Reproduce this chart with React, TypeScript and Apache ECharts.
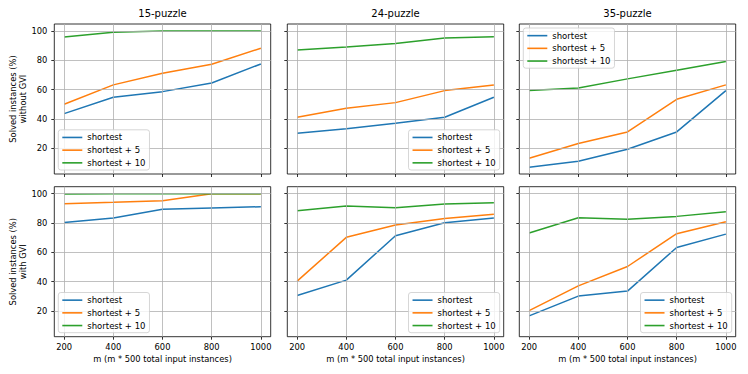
import React, { useEffect, useRef } from "react";
import * as echarts from "echarts";

const mValues = [200, 400, 600, 800, 1000];
const xTicks = [200, 400, 600, 800, 1000];
const yTicks = [20, 40, 60, 80, 100];
const seriesNames = ["shortest", "shortest + 5", "shortest + 10"];
const puzzleTitles = ["15-puzzle", "24-puzzle", "35-puzzle"];
const rowLabels = ["Solved instances (%)\nwithout GVI", "Solved instances (%)\nwith GVI"];
const xAxisTitle = "m (m * 500 total input instances)";

// without GVI
const p15WithoutShortest = [43.6, 54.8, 58.6, 64.5, 77.5];
const p15WithoutPlus5 = [50.0, 63.2, 71.1, 77.3, 88.2];
const p15WithoutPlus10 = [95.9, 99.1, 100, 100, 100];
const p24WithoutShortest = [30.2, 33.2, 37.0, 41.1, 54.8];
const p24WithoutPlus5 = [41.1, 47.3, 51.1, 59.3, 63.2];
const p24WithoutPlus10 = [87.0, 89.1, 91.4, 95.2, 96.1];
const p35WithoutShortest = [7.0, 11.1, 19.3, 31.1, 59.3];
const p35WithoutPlus5 = [13.2, 23.2, 31.1, 53.4, 63.2];
const p35WithoutPlus10 = [59.3, 61.1, 67.3, 73.2, 79.1];
// with GVI
const p15WithShortest = [80.4, 83.4, 89.3, 90.2, 91.1];
const p15WithPlus5 = [93.2, 94.1, 95.2, 100, 100];
const p15WithPlus10 = [99.8, 100, 100, 100, 100];
const p24WithShortest = [30.5, 41.0, 71.3, 80.2, 83.4];
const p24WithPlus5 = [40.3, 70.2, 78.6, 83.1, 85.9];
const p24WithPlus10 = [88.4, 91.6, 90.4, 92.9, 93.8];
const p35WithShortest = [16.6, 30.1, 33.5, 63.3, 72.4];
const p35WithPlus5 = [20.2, 37.1, 50.3, 72.7, 80.9];
const p35WithPlus10 = [73.1, 83.6, 82.5, 84.5, 87.7];

const panelData = [
  [p15WithoutShortest, p15WithoutPlus5, p15WithoutPlus10],
  [p24WithoutShortest, p24WithoutPlus5, p24WithoutPlus10],
  [p35WithoutShortest, p35WithoutPlus5, p35WithoutPlus10],
  [p15WithShortest, p15WithPlus5, p15WithPlus10],
  [p24WithShortest, p24WithPlus5, p24WithPlus10],
  [p35WithShortest, p35WithPlus5, p35WithPlus10],
];

const COLORS = ["#1f77b4", "#ff7f0e", "#2ca02c"];
const FONT = "DejaVu Sans";
const W = 748;
const H = 374;
const LEFTS = [54.3, 287.3, 519.3];
const TOPS = [24, 186.7];
const PW = 216.4;
const PH = 150;

export default function App() {
  const ref = useRef<HTMLDivElement>(null);
  useEffect(() => {
    if (!ref.current) return;
    const chart = echarts.init(ref.current, null, { renderer: "svg" });
    const grids: any[] = [];
    const xAxes: any[] = [];
    const yAxes: any[] = [];
    const series: any[] = [];
    const legends: any[] = [];
    for (let i = 0; i < 6; i++) {
      const row = Math.floor(i / 3);
      const col = i % 3;
      const left = LEFTS[col];
      const top = TOPS[row];
      grids.push({
        left,
        top,
        width: PW,
        height: PH,
        show: true,
        borderColor: "#000",
        borderWidth: 0.8,
        backgroundColor: "transparent",
        containLabel: false,
      });
      xAxes.push({
        type: "value",
        gridIndex: i,
        min: 160,
        max: 1040,
        splitLine: { show: false },
        axisLine: { show: false },
        axisTick: {
          show: true,
          customValues: xTicks,
          length: 3,
          lineStyle: { color: "#000", width: 0.8 },
        },
        axisLabel: {
          show: row === 1,
          customValues: xTicks,
          formatter: (v: number) => String(v),
          fontSize: 8.33,
          fontFamily: FONT,
          color: "#000",
          margin: 6,
        },
        name: row === 1 ? xAxisTitle : "",
        nameLocation: "middle",
        nameGap: 18,
        nameTextStyle: { fontSize: 8.33, fontFamily: FONT, color: "#000" },
      });
      yAxes.push({
        type: "value",
        gridIndex: i,
        min: 2.4,
        max: 104.75,
        splitLine: { show: false },
        axisLine: { show: false },
        axisTick: {
          show: true,
          customValues: yTicks,
          length: 3,
          lineStyle: { color: "#000", width: 0.8 },
        },
        axisLabel: {
          show: col === 0,
          customValues: yTicks,
          formatter: (v: number) => String(v),
          fontSize: 8.33,
          fontFamily: FONT,
          color: "#000",
          margin: 7,
        },
      });
      // grid lines
      series.push({
        type: "line",
        name: "grid" + i,
        xAxisIndex: i,
        yAxisIndex: i,
        data: [],
        silent: true,
        z: 1,
        markLine: {
          silent: true,
          symbol: "none",
          animation: false,
          label: { show: false },
          lineStyle: { color: "#b0b0b0", width: 0.8, type: "solid" },
          emphasis: { disabled: true },
          data: [
            ...xTicks.map((v) => ({ xAxis: v })),
            ...yTicks.map((v) => ({ yAxis: v })),
          ],
        },
      });
      panelData[i].forEach((vals, k) => {
        series.push({
          type: "line",
          name: seriesNames[k],
          xAxisIndex: i,
          yAxisIndex: i,
          data: mValues.map((m, j) => [m, vals[j]]),
          symbol: "none",
          showSymbol: false,
          z: 3,
          lineStyle: { color: COLORS[k], width: 1.5 },
          itemStyle: { color: COLORS[k] },
        });
      });
      const legendBase: any = {
        data: seriesNames.map((n) => ({ name: n, icon: "rect" })),
        orient: "vertical",
        itemWidth: 20,
        itemHeight: 1.6,
        itemGap: 1.4,
        padding: [2, 4, 1.5, 4],
        backgroundColor: "rgba(255,255,255,0.8)",
        borderColor: "#cccccc",
        borderWidth: 0.8,
        borderRadius: 2.5,
        selectedMode: false,
        textStyle: { fontSize: 8.5, fontFamily: FONT, color: "#000", lineHeight: 11.3 },
        z: 10,
      };
      const bottomEdge = top + PH - 4;
      if (i === 0 || i === 3) {
        legends.push({ ...legendBase, left: left + 4, bottom: H - bottomEdge });
      } else if (i === 1 || i === 4 || i === 5) {
        legends.push({ ...legendBase, right: W - (left + PW - 4), bottom: H - bottomEdge });
      } else {
        legends.push({ ...legendBase, left: left + 4, top: top + 4 });
      }
    }
    const titles = puzzleTitles.map((t, c) => ({
      text: t,
      left: LEFTS[c] + PW / 2,
      top: 8,
      textAlign: "center",
      padding: 0,
      textStyle: { fontSize: 10, fontWeight: "normal", fontFamily: FONT, color: "#000" },
    }));
    const graphics = rowLabels.map((txt, r) => ({
      type: "text",
      x: 17.5,
      y: TOPS[r] + PH / 2,
      rotation: Math.PI / 2,
      style: {
        text: txt,
        font: `8.33px "${FONT}"`,
        fill: "#000",
        align: "center",
        verticalAlign: "middle",
        lineHeight: 10,
      },
    }));
    chart.setOption({
      animation: false,
      backgroundColor: "#fff",
      title: titles,
      grid: grids,
      xAxis: xAxes,
      yAxis: yAxes,
      legend: legends,
      series,
      graphic: graphics,
    });
    return () => chart.dispose();
  }, []);
  return (
    <div
      ref={ref}
      style={{ position: "fixed", left: 0, top: 0, width: W, height: H }}
    />
  );
}
